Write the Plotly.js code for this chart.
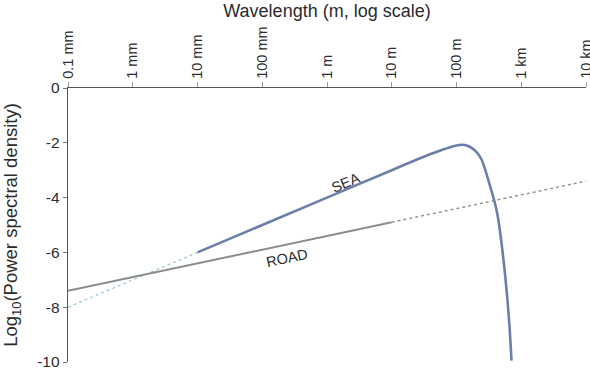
<!DOCTYPE html>
<html>
<head>
<meta charset="utf-8">
<script src="https://cdn.plot.ly/plotly-3.0.1.min.js"></script>
<style>html,body{margin:0;padding:0;background:#fff;}#chart{width:590px;height:368px;}</style>
</head>
<body>
<div id="chart"></div>
<script>
// Tick positions (wavelength in metres) and their labels
const tickValues = [1e-4, 1e-3, 1e-2, 1e-1, 1, 10, 100, 1000, 10000];
const tickLabels = ['0.1 mm', '1 mm', '10 mm', '100 mm', '1 m', '10 m', '100 m', '1 km', '10 km'];
const yTickValues = [0, -2, -4, -6, -8, -10];
const yTickLabels = ['0', '-2', '-4', '-6', '-8', '-10'];

// SEA spectrum: measured part (solid) and extrapolation (dotted)
const seaDottedX = [1e-4, 1e-2];
const seaDottedY = [-8, -6];
const seaX = [0.01, 1, 10, 25.1, 39.8, 56.2, 79.4, 100, 120, 141, 182, 214, 245, 275, 309, 380, 427, 468, 513, 562, 610, 661, 708];
const seaY = [-6, -4, -3, -2.6, -2.41, -2.28, -2.16, -2.1, -2.07, -2.09, -2.23, -2.4, -2.62, -2.95, -3.35, -4.08, -4.6, -5.2, -5.95, -6.8, -7.7, -8.75, -9.95];

// ROAD spectrum: measured (solid) and extrapolation (dotted)
const roadX = [1e-4, 10];
const roadY = [-7.4, -4.9];
const roadDottedX = [10, 1e4];
const roadDottedY = [-4.9, -3.4];

// Label positions
const labelText = ['SEA', 'ROAD'];
const labelX = [1.9, 0.24];
const labelY = [-3.46, -6.19];
const labelAngle = [-23, -12];

const traces = [
  {x: seaDottedX, y: seaDottedY, mode: 'lines', line: {color: '#9cc4dc', width: 1.2, dash: 'dot'}, hoverinfo: 'skip'},
  {x: roadDottedX, y: roadDottedY, mode: 'lines', line: {color: '#8f8f8f', width: 1.4, dash: 'dot'}, hoverinfo: 'skip'},
  {x: roadX, y: roadY, mode: 'lines', line: {color: '#8c8c8c', width: 2}},
  {x: seaX, y: seaY, mode: 'lines', line: {color: '#6b80a8', width: 2.6, shape: 'spline', smoothing: 0.6}}
];

const font = {family: 'Liberation Sans, Arial, sans-serif', color: '#2b2b2b'};

const layout = {
  width: 590, height: 368,
  margin: {l: 68, r: 4, t: 88, b: 6},
  paper_bgcolor: '#fff', plot_bgcolor: '#fff',
  showlegend: false,
  font: font,
  xaxis: {
    type: 'log', side: 'top', range: [-4, 4],
    tickvals: tickValues, ticktext: tickLabels, tickangle: -90,
    ticks: 'outside', ticklen: 5, tickcolor: '#9a9a9a', tickwidth: 1,
    ticklabeloverflow: 'allow',
    showgrid: false, zeroline: false,
    showline: true, linecolor: '#555', linewidth: 1.3,
    tickfont: {size: 14.5, color: '#2b2b2b'},
    title: {text: 'Wavelength (m, log scale)', font: {size: 18, color: '#2b2b2b'}, standoff: 4}
  },
  yaxis: {
    range: [-10, 0], tickvals: yTickValues, ticktext: yTickLabels,
    ticks: 'outside', ticklen: 4, tickcolor: '#777', tickwidth: 1,
    ticklabeloverflow: 'allow',
    showgrid: false, zeroline: false,
    showline: true, linecolor: '#555', linewidth: 1.3,
    tickfont: {size: 15.5, color: '#2b2b2b'},
    title: {text: 'Log<sub>10</sub>(Power spectral density)', font: {size: 18.5, color: '#2b2b2b'}, standoff: 20}
  },
  annotations: labelText.map((t, i) => ({
    x: Math.log10(labelX[i]), y: labelY[i], xref: 'x', yref: 'y',
    text: t, showarrow: false, textangle: labelAngle[i],
    font: {size: 14.5, color: '#2b2b2b'}
  }))
};

Plotly.newPlot('chart', traces, layout, {displayModeBar: false, staticPlot: true});
</script>
</body>
</html>
